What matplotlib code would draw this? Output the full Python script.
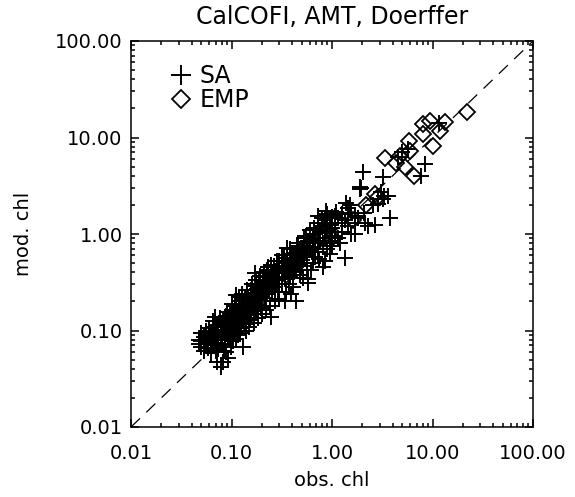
#Scatter of modelled vs observed chlorophyll (log-log), with 1:1 line
import matplotlib
matplotlib.use('Agg')
import matplotlib.pyplot as plt
import numpy as np
from matplotlib.ticker import NullFormatter

##########################################
#Data: (obs. chl, mod. chl)
sa_points = [
	(0.047, 0.080), (0.047, 0.072),
	(0.050, 0.095), (0.050, 0.068), (0.050, 0.078),
	(0.053, 0.085), (0.053, 0.062),
	(0.056, 0.074), (0.056, 0.090), (0.056, 0.100),
	(0.059, 0.066), (0.059, 0.082), (0.060, 0.105),
	(0.062, 0.095), (0.062, 0.076), (0.062, 0.058),
	(0.065, 0.088), (0.065, 0.110), (0.065, 0.070), (0.066, 0.125),
	(0.068, 0.080), (0.069, 0.139), (0.068, 0.098), (0.070, 0.062),
	(0.071, 0.047), (0.071, 0.092), (0.071, 0.075), (0.071, 0.115),
	(0.074, 0.086), (0.074, 0.102), (0.074, 0.064), (0.076, 0.135),
	(0.078, 0.042), (0.078, 0.095), (0.078, 0.120), (0.078, 0.080),
	(0.081, 0.110), (0.081, 0.070), (0.081, 0.090),
	(0.083, 0.047), (0.083, 0.130), (0.083, 0.100), (0.084, 0.062),
	(0.086, 0.085), (0.086, 0.115), (0.086, 0.072),
	(0.089, 0.140), (0.089, 0.098), (0.089, 0.060), (0.090, 0.155),
	(0.093, 0.052), (0.093, 0.105), (0.093, 0.125), (0.093, 0.088),
	(0.096, 0.118), (0.096, 0.150), (0.096, 0.080), (0.098, 0.068),
	(0.100, 0.135), (0.100, 0.095), (0.100, 0.112), (0.100, 0.165),
	(0.104, 0.078), (0.104, 0.128), (0.104, 0.145), (0.102, 0.190),
	(0.108, 0.110), (0.108, 0.180), (0.108, 0.098), (0.110, 0.082),
	(0.112, 0.235), (0.112, 0.140), (0.112, 0.120),
	(0.116, 0.090), (0.116, 0.155), (0.116, 0.130), (0.118, 0.225),
	(0.120, 0.170), (0.120, 0.115), (0.120, 0.200), (0.122, 0.095),
	(0.125, 0.140), (0.125, 0.105), (0.125, 0.160), (0.128, 0.240),
	(0.130, 0.068), (0.130, 0.185), (0.130, 0.150), (0.130, 0.125),
	(0.135, 0.175), (0.135, 0.135), (0.135, 0.210), (0.138, 0.100),
	(0.140, 0.160), (0.140, 0.118), (0.140, 0.195), (0.144, 0.260),
	(0.146, 0.225), (0.146, 0.150), (0.146, 0.180), (0.150, 0.110),
	(0.152, 0.130), (0.152, 0.205), (0.152, 0.170),
	(0.158, 0.260), (0.158, 0.190), (0.158, 0.145), (0.160, 0.300),
	(0.165, 0.215), (0.165, 0.175), (0.165, 0.240), (0.168, 0.120),
	(0.172, 0.390), (0.172, 0.200), (0.172, 0.160), (0.172, 0.290),
	(0.180, 0.230), (0.180, 0.185), (0.180, 0.270), (0.176, 0.330),
	(0.188, 0.250), (0.188, 0.205), (0.188, 0.330), (0.185, 0.135),
	(0.196, 0.220), (0.196, 0.280), (0.196, 0.170), (0.192, 0.370),
	(0.205, 0.300), (0.205, 0.245), (0.205, 0.360), (0.200, 0.150),
	(0.215, 0.265), (0.215, 0.215), (0.215, 0.320), (0.210, 0.400),
	(0.225, 0.420), (0.225, 0.290), (0.225, 0.240), (0.220, 0.165),
	(0.235, 0.310), (0.235, 0.260), (0.235, 0.360), (0.230, 0.450),
	(0.245, 0.139), (0.245, 0.340), (0.245, 0.280), (0.240, 0.180),
	(0.255, 0.300), (0.255, 0.390), (0.255, 0.250), (0.250, 0.480),
	(0.265, 0.470), (0.265, 0.330), (0.265, 0.280), (0.270, 0.200),
	(0.278, 0.360), (0.278, 0.300), (0.278, 0.410), (0.285, 0.520),
	(0.290, 0.330), (0.290, 0.440), (0.290, 0.250),
	(0.300, 0.390), (0.300, 0.340), (0.300, 0.520), (0.300, 0.250), (0.300, 0.210),
	(0.315, 0.420), (0.315, 0.300), (0.320, 0.600),
	(0.330, 0.460), (0.330, 0.390), (0.330, 0.560),
	(0.340, 0.200), (0.340, 0.340), (0.340, 0.500), (0.350, 0.250),
	(0.355, 0.420), (0.355, 0.610), (0.360, 0.720),
	(0.370, 0.480), (0.370, 0.410), (0.370, 0.300),
	(0.385, 0.700), (0.385, 0.460), (0.385, 0.360), (0.380, 0.620),
	(0.400, 0.520), (0.400, 0.440), (0.400, 0.600), (0.390, 0.240),
	(0.420, 0.480), (0.420, 0.560), (0.420, 0.400), (0.410, 0.280),
	(0.440, 0.640), (0.440, 0.200), (0.440, 0.450), (0.450, 0.750),
	(0.460, 0.800), (0.460, 0.560), (0.460, 0.490),
	(0.480, 0.600), (0.480, 0.380), (0.480, 0.700),
	(0.500, 0.540), (0.500, 0.650), (0.500, 0.470), (0.520, 0.350),
	(0.530, 0.720), (0.530, 0.580), (0.530, 0.900), (0.550, 0.950),
	(0.560, 0.620), (0.560, 0.760), (0.560, 0.420),
	(0.580, 0.310), (0.580, 0.340), (0.580, 0.850),
	(0.600, 0.820), (0.600, 0.680), (0.600, 1.100), (0.620, 0.420),
	(0.640, 0.740), (0.640, 0.500), (0.640, 0.880), (0.660, 1.150),
	(0.680, 1.000), (0.680, 0.800), (0.680, 0.580),
	(0.720, 1.300), (0.720, 0.900), (0.720, 0.650),
	(0.730, 1.520), (0.760, 1.050), (0.760, 0.850), (0.750, 0.550),
	(0.810, 0.450), (0.810, 1.200), (0.810, 0.800), (0.800, 1.450),
	(0.850, 1.400), (0.850, 0.520), (0.850, 0.900), (0.870, 1.750),
	(0.900, 1.100), (0.900, 1.600), (0.900, 0.700),
	(0.950, 1.250), (0.950, 0.850), (0.950, 0.620),
	(1.000, 1.500), (1.000, 1.150), (1.000, 0.950), (1.000, 0.750),
	(1.070, 1.520), (1.070, 1.050), (1.070, 1.300), (1.100, 1.700),
	(1.150, 1.450), (1.150, 0.900), (1.200, 0.800),
	(1.250, 1.600), (1.250, 1.300), (1.250, 1.050),
	(1.350, 0.570), (1.370, 2.100), (1.350, 1.400),
	(1.440, 1.880), (1.440, 1.200), (1.500, 2.000),
	(1.550, 1.650), (1.550, 1.000),
	(1.690, 1.310), (1.690, 1.550), (1.700, 0.990),
	(1.800, 1.450),
	(1.900, 3.100), (1.900, 2.950), (1.960, 3.000), (2.030, 4.350),
	(2.100, 1.650), (2.120, 1.310), (2.300, 1.200), (2.550, 2.000),
	(2.650, 1.250), (2.860, 2.030), (2.900, 2.300), (3.050, 2.700),
	(3.200, 2.290), (3.300, 2.450), (3.200, 3.860), (3.600, 2.470),
	(3.750, 1.480),
	(4.500, 6.300), (5.000, 7.000), (5.650, 7.550),
	(7.600, 4.000), (8.400, 5.300), (11.500, 14.000),
]

emp_points = [
	(22.2, 18.3), (8.1, 13.7), (9.5, 14.8), (13.4, 14.5), (12.0, 11.6),
	(8.0, 10.8), (10.0, 8.1), (5.9, 9.1), (6.0, 7.2), (3.35, 6.2),
	(4.8, 6.4), (5.3, 5.0), (6.6, 3.96), (4.3, 5.5), (2.9, 2.4),
	(2.67, 2.57), (2.2, 2.0), (1.6, 1.4), (1.0, 0.9), (0.8, 0.9),
	(0.6, 0.7), (0.45, 0.5), (0.35, 0.38), (0.25, 0.32), (0.18, 0.2),
	(0.15, 0.14), (0.12, 0.11), (0.08, 0.075), (0.065, 0.07),
]

one_to_one = [0.01, 100.]

tick_values = [0.01, 0.1, 1., 10., 100.]
tick_labels = ['0.01', '0.10', '1.00', '10.00', '100.00']

##########################################
#Plot settings
plt.rcParams['font.family'] = ['DejaVu Sans']
font_size = 14
line_color = 'black'

sa = np.array(sa_points)
emp = np.array(emp_points)

fig = plt.figure(figsize=[5.75, 4.97], dpi=100)
ax = fig.add_axes([131/575., 1 - 427/497., 402/575., 386/497.])

#1:1 line
ax.plot(one_to_one, one_to_one, color=line_color, lw=0.9, dashes=(10, 7), zorder=1)

#Data
ax.plot(emp[:, 0], emp[:, 1], ls='none', marker='D', ms=7.8, mfc='none', mec=line_color, mew=1.3, label='EMP', zorder=2)
ax.plot(sa[:, 0], sa[:, 1], ls='none', marker='+', ms=11.5, mec=line_color, mew=1.4, label='SA', zorder=3)

ax.set_xscale('log')
ax.set_yscale('log')
ax.set_xlim(one_to_one)
ax.set_ylim(one_to_one)

ax.set_xticks(tick_values)
ax.set_xticklabels(tick_labels, fontsize=font_size)
ax.set_yticks(tick_values)
ax.set_yticklabels(tick_labels, fontsize=font_size)
ax.xaxis.set_minor_formatter(NullFormatter())
ax.yaxis.set_minor_formatter(NullFormatter())

ax.tick_params(which='both', direction='in', top=True, right=True, width=1.1, color=line_color)
ax.tick_params(which='major', length=5.5)
ax.tick_params(which='minor', length=3)
ax.tick_params(axis='x', which='major', pad=12)
ax.tick_params(axis='y', which='major', pad=6)

for sp in ax.spines.values():
	sp.set_linewidth(1.1)

ax.set_xlabel('obs. chl', fontsize=font_size, labelpad=6)
ax.set_ylabel('mod. chl', fontsize=font_size, labelpad=16)
ax.set_title('CalCOFI, AMT, Doerffer', fontsize=font_size+3, pad=12)

#Legend (SA first)
handles, labels = ax.get_legend_handles_labels()
ax.legend(handles[::-1], labels[::-1], loc='upper left', bbox_to_anchor=(0.1, 0.94), frameon=False,
	fontsize=17, markerscale=1.2, handlelength=0.8, handletextpad=0.4, labelspacing=0.0,
	borderpad=0, borderaxespad=0)

#Save
plt.savefig('out.png', dpi=100)
plt.close()
